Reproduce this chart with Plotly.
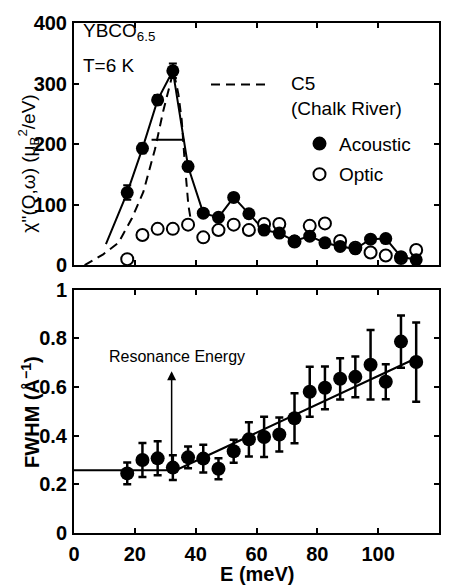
import plotly.graph_objects as go

# ---------------- data ----------------
E = [17.5, 22.5, 27.5, 32.5, 37.5, 42.5, 47.5, 52.5, 57.5, 62.5,
     67.5, 72.5, 77.5, 82.5, 87.5, 92.5, 97.5, 102.5, 107.5, 112.5]

acoustic = [120, 193, 273, 321, 163, 86, 79, 112, 85, 58,
            53, 40, 48, 37, 31, 27, 43, 44, 14, 9]
acoustic_err = [12, 8, 8, 12, 8, 6, 6, 6, 6, 5,
                5, 5, 5, 5, 5, 5, 5, 5, 5, 5]
optic = [10, 50, 60, 60, 67, 46, 58, 67, 58, 68,
         68, 39, 65, 69, 40, 29, 21, 16, 12, 25]

# solid guide line through the acoustic points (starts below the first point)
acoustic_line_E = [10.5] + E
acoustic_line_y = [35] + acoustic

# C5 (Chalk River) dashed curve
c5_E = [3.5, 9.6, 14.6, 19.0, 22.8, 26.6, 29.4, 32.7, 34.3, 35.4, 36.5, 37.6, 38.5]
c5_y = [0, 18, 37, 77, 121, 191, 256, 321, 283, 240, 164, 99, 72]

# horizontal width bar at half maximum
half_E = [25.5, 36.3]
half_y = [207, 207]

# FWHM panel
fwhm = [0.245, 0.300, 0.307, 0.269, 0.311, 0.306, 0.264, 0.336, 0.385, 0.395,
        0.405, 0.472, 0.581, 0.597, 0.634, 0.642, 0.692, 0.622, 0.787, 0.703]
fwhm_err = [0.045, 0.070, 0.070, 0.051, 0.045, 0.057, 0.043, 0.047, 0.070, 0.083,
            0.070, 0.103, 0.103, 0.088, 0.085, 0.084, 0.143, 0.072, 0.107, 0.163]
fit_E = [0, 33.5, 111.6]
fit_y = [0.258, 0.258, 0.713]

res_E = 32.1
res_arrow_from = 0.262
res_arrow_to = 0.665

xticks = [0, 20, 40, 60, 80, 100, 120]
yticks_top = [0, 100, 200, 300, 400]
yticks_bot = [0, 0.2, 0.4, 0.6, 0.8, 1]

# ---------------- figure ----------------
FONT = "Liberation Sans"
W, H = 454, 586
L, R, T, B = 74, 15, 15, 53
PW, PH = W - L - R, H - T - B
DASH = "9px,6px"


def px(x):
    return (x - L) / PW


def py(y):
    return (H - B - y) / PH


fig = go.Figure()

# top panel
fig.add_trace(go.Scatter(x=c5_E, y=c5_y, mode="lines", xaxis="x2", yaxis="y2",
                         line=dict(color="black", width=2, dash=DASH),
                         showlegend=False, hoverinfo="skip"))
fig.add_trace(go.Scatter(x=acoustic_line_E, y=acoustic_line_y, mode="lines",
                         xaxis="x2", yaxis="y2",
                         line=dict(color="black", width=2), showlegend=False))
fig.add_trace(go.Scatter(x=half_E, y=half_y, mode="lines", xaxis="x2", yaxis="y2",
                         line=dict(color="black", width=2), showlegend=False))
fig.add_trace(go.Scatter(x=E, y=optic, mode="markers", xaxis="x2", yaxis="y2",
                         marker=dict(symbol="circle", size=12, color="white",
                                     line=dict(color="black", width=2)),
                         showlegend=False))
fig.add_trace(go.Scatter(x=E, y=acoustic, mode="markers", xaxis="x2", yaxis="y2",
                         error_y=dict(type="data", array=acoustic_err, color="black",
                                      thickness=2, width=4),
                         marker=dict(symbol="circle", size=13, color="black"),
                         showlegend=False))

# bottom panel
fig.add_trace(go.Scatter(x=fit_E, y=fit_y, mode="lines", xaxis="x", yaxis="y",
                         line=dict(color="black", width=2.2), showlegend=False))
fig.add_trace(go.Scatter(x=E, y=fwhm, mode="markers", xaxis="x", yaxis="y",
                         error_y=dict(type="data", array=fwhm_err, color="black",
                                      thickness=2.5, width=4),
                         marker=dict(symbol="circle", size=14, color="black"),
                         showlegend=False))

axis_common = dict(showline=True, linecolor="black", linewidth=2, mirror="ticks",
                   ticks="inside", ticklen=5, tickwidth=1.5, tickcolor="black",
                   showgrid=False, zeroline=False,
                   tickfont=dict(family=FONT, size=20, color="black", weight="bold"))

top_dom = [(H - B - 261) / PH, 1]
bot_dom = [0, (H - B - 286) / PH]

fig.update_layout(
    width=W, height=H, margin=dict(l=L, r=R, t=T, b=B),
    paper_bgcolor="white", plot_bgcolor="white",
    font=dict(family=FONT, color="black"),
    xaxis=dict(axis_common, range=[0, 120], tickvals=xticks, anchor="y",
               domain=[0, 1], ticklabelstandoff=2),
    yaxis=dict(axis_common, range=[0, 1], tickvals=yticks_bot,
               ticktext=["0", "0.2", "0.4", "0.6", "0.8", "1"],
               anchor="x", domain=bot_dom, ticklabelstandoff=1),
    xaxis2=dict(axis_common, range=[0, 120], tickvals=xticks, anchor="y2",
                domain=[0, 1], showticklabels=False),
    yaxis2=dict(axis_common, range=[0, 400], tickvals=yticks_top, anchor="x2",
                domain=top_dom, ticklabelstandoff=1),
)

ann = []
# axis titles
ann.append(dict(text="E (meV)", x=px(257), y=py(575), xref="paper", yref="paper",
                showarrow=False, font=dict(size=20, weight="bold"),
                xanchor="center", yanchor="middle"))
ann.append(dict(text="FWHM (Å<sup>−1</sup>)", x=px(31), y=py(410), xref="paper",
                yref="paper", showarrow=False, textangle=-90,
                font=dict(size=20, weight="bold"), xanchor="center", yanchor="middle"))
ann.append(dict(text="χ''(Q,ω) (μ<sub>B</sub><sup>2</sup>/eV)", x=px(29), y=py(158),
                xref="paper", yref="paper", showarrow=False, textangle=-90,
                font=dict(size=19), xanchor="center", yanchor="middle"))
# panel labels
ann.append(dict(text="YBCO<sub>6.5</sub>", x=px(81), y=py(24), xref="paper",
                yref="paper", showarrow=False, font=dict(size=19),
                xanchor="left", yanchor="middle"))
ann.append(dict(text="T=6 K", x=px(81), y=py(58), xref="paper", yref="paper",
                showarrow=False, font=dict(size=19), xanchor="left", yanchor="middle"))
# legend texts
ann.append(dict(text="C5<br>(Chalk River)", x=px(289), y=py(89), xref="paper",
                yref="paper", showarrow=False, font=dict(size=19), align="left",
                xanchor="left", yanchor="middle"))
ann.append(dict(text="Acoustic", x=px(337), y=py(138), xref="paper", yref="paper",
                showarrow=False, font=dict(size=19), xanchor="left", yanchor="middle"))
ann.append(dict(text="Optic", x=px(337), y=py(169), xref="paper", yref="paper",
                showarrow=False, font=dict(size=19), xanchor="left", yanchor="middle"))
# resonance arrow and label
ann.append(dict(x=res_E, y=res_arrow_to, ax=res_E, ay=res_arrow_from,
                xref="x", yref="y", axref="x", ayref="y", text="",
                showarrow=True, arrowhead=2, arrowsize=1.2, arrowwidth=1.5,
                arrowcolor="black"))
ann.append(dict(text="Resonance Energy", x=33.9, y=0.727, xref="x", yref="y",
                showarrow=False, font=dict(size=16), xanchor="center",
                yanchor="middle"))
fig.update_layout(annotations=ann)

# legend symbols
shapes = []
shapes.append(dict(type="line", xref="paper", yref="paper", x0=px(211), x1=px(271),
                   y0=py(77.5), y1=py(77.5),
                   line=dict(color="black", width=2, dash=DASH)))
for cy, fill in [(137.5, "black"), (168.5, "white")]:
    shapes.append(dict(type="circle", xref="paper", yref="paper",
                       xsizemode="pixel", ysizemode="pixel",
                       xanchor=px(319.5), yanchor=py(cy),
                       x0=-6, x1=6, y0=-6, y1=6,
                       fillcolor=fill, line=dict(color="black", width=2)))
fig.update_layout(shapes=shapes)

fig.write_html("out.html")
